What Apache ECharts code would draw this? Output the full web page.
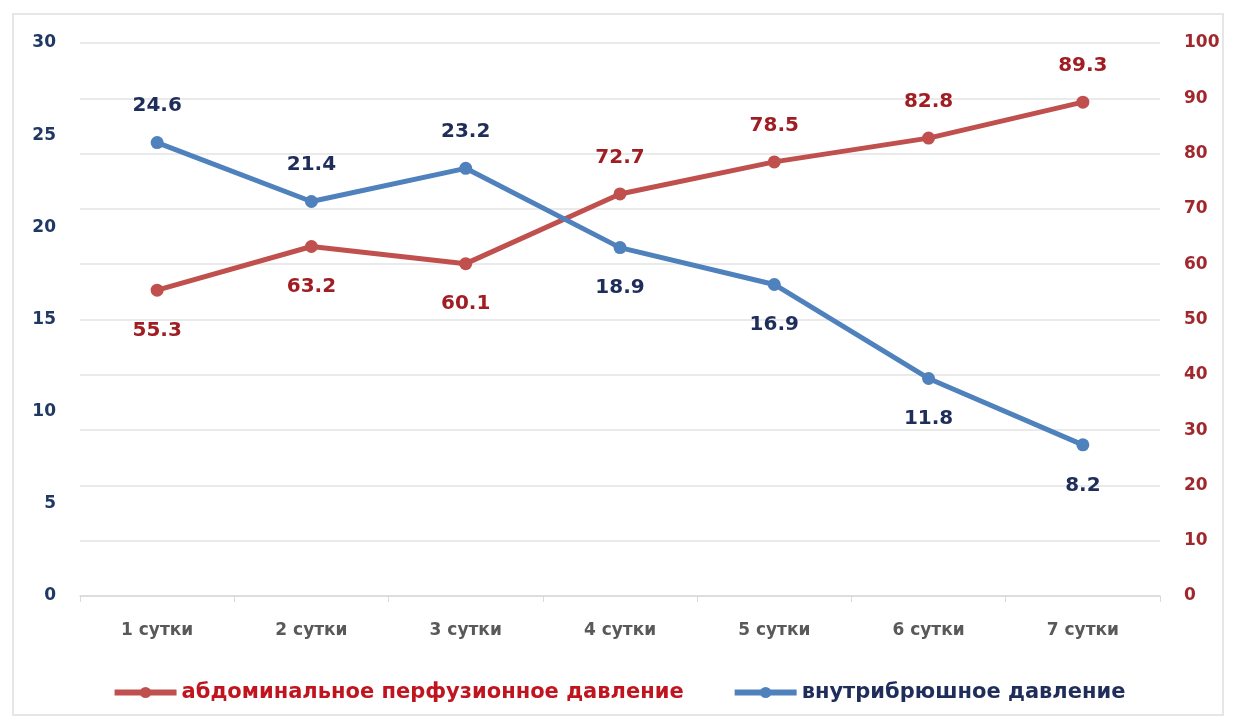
<!DOCTYPE html>
<html><head><meta charset="utf-8">
<script src="https://cdn.jsdelivr.net/npm/echarts@6/dist/echarts.min.js"></script>
<style>html,body{margin:0;padding:0;background:#fff}#c{width:1237px;height:722px}
#frame{position:absolute;left:12px;top:13px;width:1212px;height:703px;border:2px solid #e6e6e6;box-sizing:border-box;pointer-events:none}</style>
</head><body><div id="c"></div><div id="frame"></div>
<script>
const categories = ['1 сутки','2 сутки','3 сутки','4 сутки','5 сутки','6 сутки','7 сутки'];
const perfusion = [55.3, 63.2, 60.1, 72.7, 78.5, 82.8, 89.3];
const iap = [24.6, 21.4, 23.2, 18.9, 16.9, 11.8, 8.2];
const perfusionName = 'абдоминальное перфузионное давление';
const iapName = 'внутрибрюшное давление';
const blueLabelTop = [true, true, true, false, false, false, false];

const font = '"DejaVu Sans", sans-serif';
const lbl = top => top ? {position: 'top', distance: 20} : {position: 'bottom', distance: 24};
const chart = echarts.init(document.getElementById('c'));
chart.setOption({
  animation: false,
  textStyle: {fontFamily: font},
  grid: {left: 80, right: 77, top: 43, bottom: 126},
  legend: {
    top: 677, left: 'center', itemWidth: 62, itemHeight: 14, itemGap: 48,
    textStyle: {fontSize: 21, fontWeight: 'bold', fontFamily: font},
    data: [
      {name: perfusionName, textStyle: {color: '#c0141e'}, lineStyle: {width: 6}},
      {name: iapName, textStyle: {color: '#1f2d5a'}, lineStyle: {width: 6}}
    ]
  },
  xAxis: {
    type: 'category', data: categories, boundaryGap: true,
    axisLine: {lineStyle: {color: '#d9d9d9', width: 1.5}},
    axisTick: {show: true, length: 6, lineStyle: {color: '#d9d9d9'}},
    axisLabel: {color: '#595959', fontSize: 17, fontWeight: 'bold', margin: 26}
  },
  yAxis: [
    {type: 'value', min: 0, max: 30, interval: 5, position: 'left',
     axisLine: {show: false}, axisTick: {show: false},
     splitLine: {show: false},
     axisLabel: {color: '#1f3864', fontSize: 17, fontWeight: 'bold', margin: 24}},
    {type: 'value', min: 0, max: 100, interval: 10, position: 'right',
     axisLine: {show: false}, axisTick: {show: false},
     splitLine: {show: true, lineStyle: {color: '#e3e3e3', width: 1.5}},
     axisLabel: {color: '#a0282d', fontSize: 17, fontWeight: 'bold', margin: 24}}
  ],
  series: [
    {name: perfusionName, type: 'line', yAxisIndex: 1, data: perfusion.map((v, i) => ({value: v, label: lbl(!blueLabelTop[i])})),
     symbol: 'circle', symbolSize: 13,
     lineStyle: {color: '#c0504d', width: 5}, itemStyle: {color: '#c0504d'},
     label: {show: true, color: '#a01e23', fontSize: 20, fontWeight: 'bold', formatter: p => p.value.toFixed(1)}},
    {name: iapName, type: 'line', yAxisIndex: 0, data: iap.map((v, i) => ({value: v, label: lbl(blueLabelTop[i])})),
     symbol: 'circle', symbolSize: 13,
     lineStyle: {color: '#4f81bd', width: 5}, itemStyle: {color: '#4f81bd'},
     label: {show: true, color: '#1f2d5a', fontSize: 20, fontWeight: 'bold', formatter: p => p.value.toFixed(1)}}
  ]
});
</script></body></html>
